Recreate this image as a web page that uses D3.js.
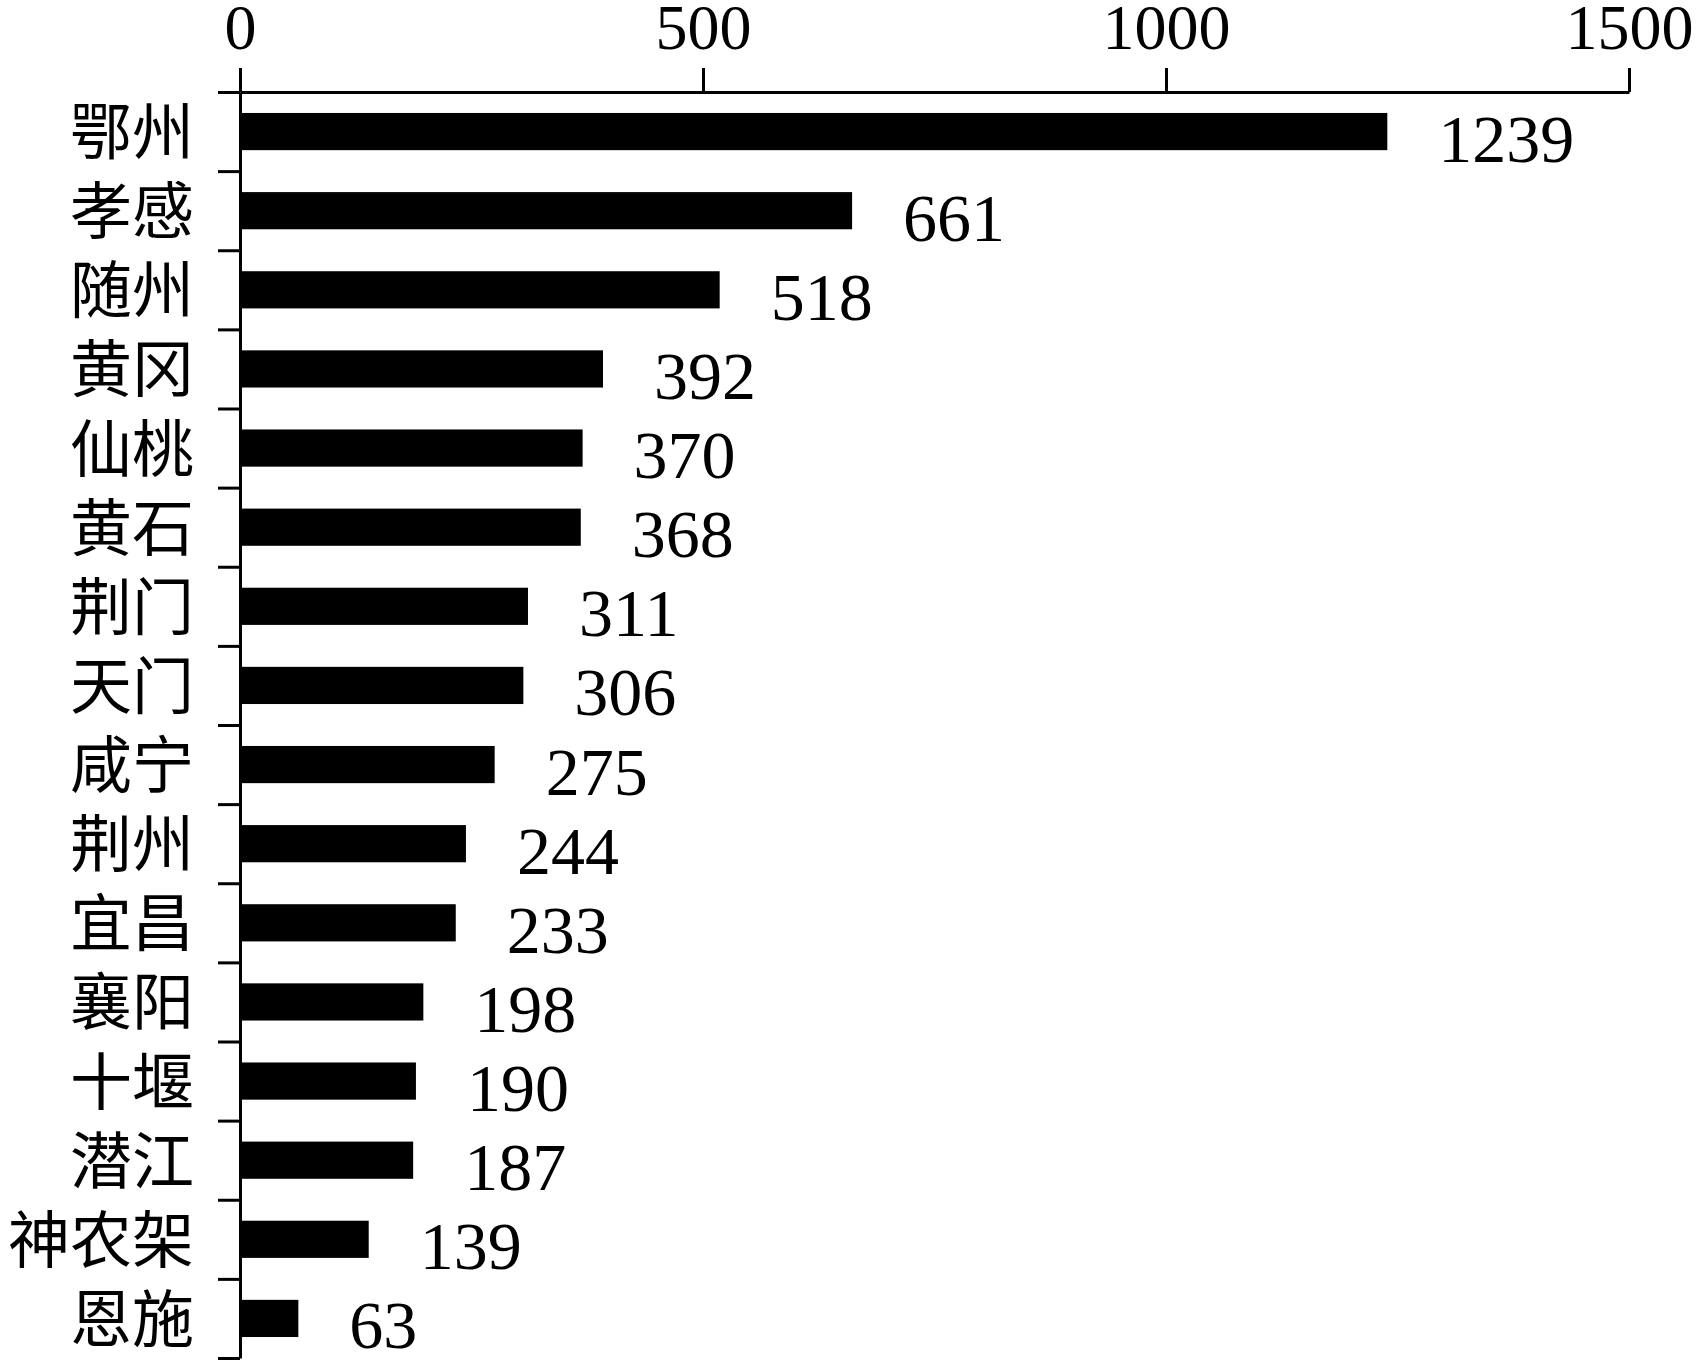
<!DOCTYPE html>
<html>
<head>
<meta charset="utf-8">
<script src="https://cdn.jsdelivr.net/npm/d3@7"></script>
<style>
  body { margin: 0; background: #fff; }
</style>
</head>
<body>
<div id="chart"></div>
<script>
// cities (top to bottom) and their counts
const cities = ["鄂州", "孝感", "随州", "黄冈", "仙桃", "黄石", "荆门", "天门",
  "咸宁", "荆州", "宜昌", "襄阳", "十堰", "潜江", "神农架", "恩施"];
const counts = [1239, 661, 518, 392, 370, 368, 311, 306, 275, 244, 233, 198, 190, 187, 139, 63];
const xTicks = [0, 500, 1000, 1500];

const data = cities.map((c, i) => ({ city: c, value: counts[i] }));

const width = 1700,
  height = 1363;
const plotLeft = 240,
  plotRight = 1629,
  plotTop = 92,
  plotBottom = 1358;

const svg = d3
  .select("#chart")
  .append("svg")
  .attr("width", width)
  .attr("height", height);

const x = d3.scaleLinear().domain([0, 1500]).range([plotLeft, plotRight]);

const y = d3
  .scaleBand()
  .domain(cities)
  .range([plotTop, plotBottom])
  .paddingInner(0.53)
  .paddingOuter(0.265);

// boundary scale for the left axis ticks (between categories)
const yEdge = d3.scaleLinear().domain([0, cities.length]).range([plotTop, plotBottom]);

// bars
svg
  .selectAll("rect.bar")
  .data(data)
  .enter()
  .append("rect")
  .attr("class", "bar")
  .attr("x", x(0))
  .attr("y", (d) => y(d.city))
  .attr("width", (d) => x(d.value) - x(0))
  .attr("height", y.bandwidth())
  .attr("fill", "#000");

// top axis
const xAxis = svg
  .append("g")
  .attr("transform", `translate(0,${plotTop})`)
  .call(
    d3
      .axisTop(x)
      .tickValues(xTicks)
      .tickFormat(d3.format("d"))
      .tickSize(24)
      .tickSizeOuter(0)
      .tickPadding(19)
  );

xAxis.selectAll("path, line").attr("stroke", "#000").attr("stroke-width", 3);
xAxis
  .selectAll("text")
  .attr("font-family", "'Liberation Serif', 'Times New Roman', serif")
  .attr("font-size", "64px")
  .attr("fill", "#000");

// left axis with ticks at category boundaries
const yAxis = svg
  .append("g")
  .attr("transform", `translate(${plotLeft},0)`)
  .call(
    d3
      .axisLeft(yEdge)
      .tickValues(d3.range(cities.length + 1))
      .tickSize(22)
      .tickSizeOuter(0)
      .tickFormat("")
  );

yAxis.selectAll("path, line").attr("stroke", "#000").attr("stroke-width", 3);

// category labels
svg
  .selectAll("text.city")
  .data(data)
  .enter()
  .append("text")
  .attr("class", "city")
  .attr("x", 194)
  .attr("y", (d) => y(d.city) + y.bandwidth() / 2)
  .attr("dy", "0.38em")
  .attr("text-anchor", "end")
  .attr("font-family", "'Noto Sans CJK SC', sans-serif")
  .attr("font-size", "62px")
  .attr("fill", "#000")
  .text((d) => d.city);

// value labels
svg
  .selectAll("text.value")
  .data(data)
  .enter()
  .append("text")
  .attr("class", "value")
  .attr("x", (d) => x(d.value) + 51)
  .attr("y", (d) => y(d.city) + y.bandwidth() / 2 + 30)
  .attr("font-family", "'Liberation Serif', 'Times New Roman', serif")
  .attr("font-size", "68px")
  .attr("fill", "#000")
  .text((d) => d.value);
</script>
</body>
</html>
